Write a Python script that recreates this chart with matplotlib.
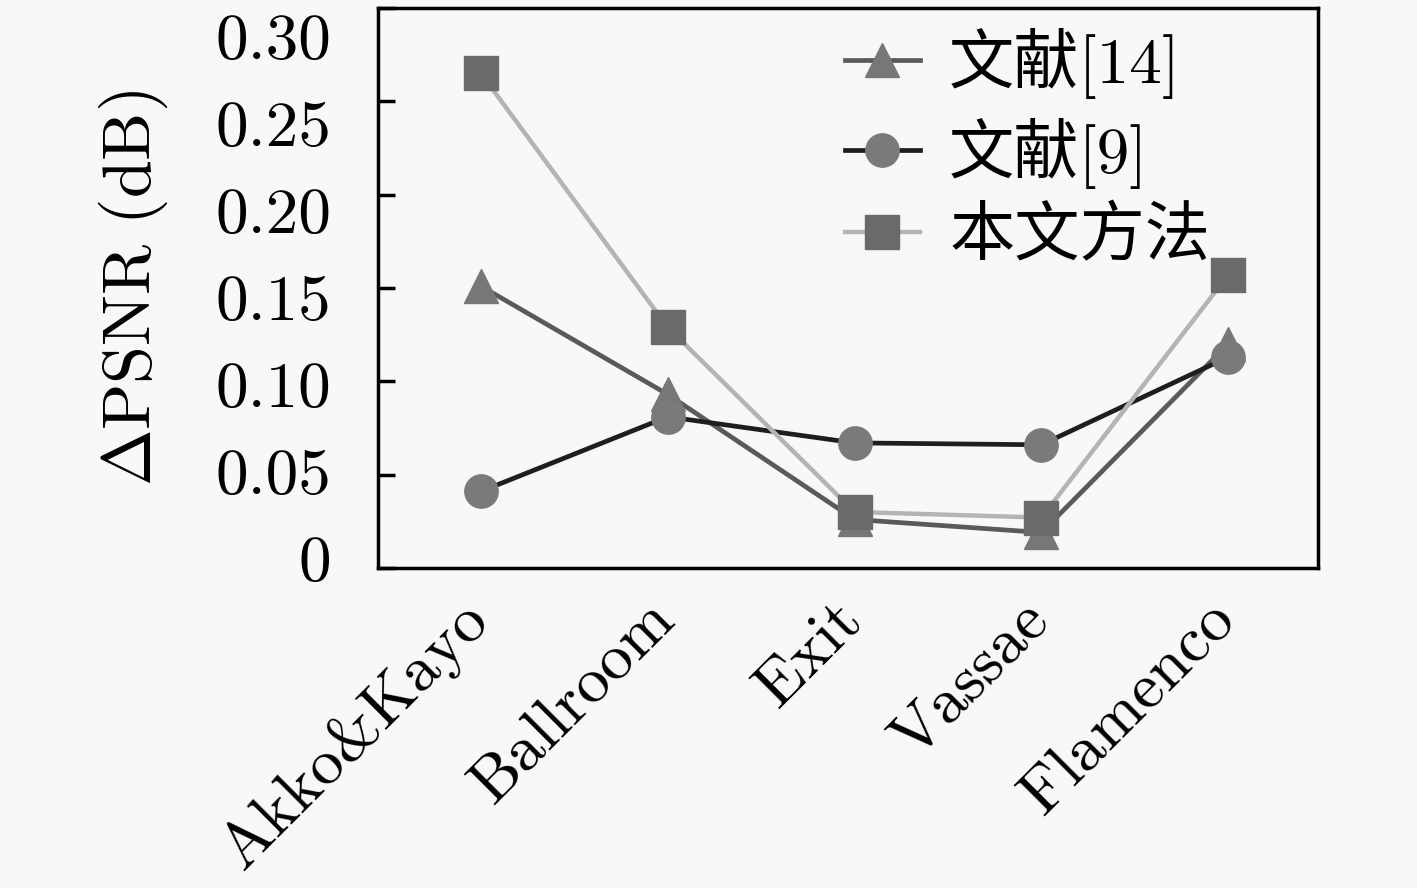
import matplotlib

matplotlib.use("Agg")
import matplotlib.pyplot as plt  # noqa: E402
import matplotlib.transforms as mtransforms  # noqa: E402

plt.rcParams["font.family"] = ["cmr10", "Noto Sans CJK SC", "DejaVu Sans"]
plt.rcParams["mathtext.fontset"] = "cm"
plt.rcParams["axes.unicode_minus"] = False

# 数据
sequences = ["Akko&Kayo", "Ballroom", "Exit", "Vassae", "Flamenco"]
ref14 = [0.151, 0.093, 0.026, 0.019, 0.120]
ref9 = [0.041, 0.081, 0.067, 0.066, 0.113]
ours = [0.265, 0.129, 0.030, 0.027, 0.157]
y_ticks = [0, 0.05, 0.10, 0.15, 0.20, 0.25, 0.30]
y_tick_labels = ["0", "0.05", "0.10", "0.15", "0.20", "0.25", "0.30"]

BG = "#f8f8f8"
FS = 47

fig = plt.figure(figsize=(14.17, 8.88), dpi=100)
fig.patch.set_facecolor(BG)
ax = fig.add_axes([0.2668, 0.3604, 0.6633, 0.6306])
ax.set_facecolor(BG)

x = list(range(len(sequences)))
ax.plot(x, ref14, color="#5a5a5a", linewidth=3.4, marker="^", markersize=24,
        markerfacecolor="#777777", markeredgecolor="#777777", label="文献[14]", zorder=3)
ax.plot(x, ref9, color="#1e1e1e", linewidth=3.4, marker="o", markersize=24,
        markerfacecolor="#7a7a7a", markeredgecolor="#7a7a7a", label="文献[9]", zorder=3)
ax.plot(x, ours, color="#b4b4b4", linewidth=3.2, marker="s", markersize=25,
        markerfacecolor="#6a6a6a", markeredgecolor="#6a6a6a", label="本文方法", zorder=4)

ax.set_xlim(-0.55, 4.48)
ax.set_ylim(0, 0.30)
ax.set_xticks(x)
ax.set_xticklabels(sequences, rotation=45, ha="right", va="top",
                   rotation_mode="anchor", fontsize=FS)
ax.tick_params(axis="x", length=0, pad=16)
shift = mtransforms.ScaledTranslation(-0.22, 0, fig.dpi_scale_trans)
for lbl in ax.get_xticklabels():
    lbl.set_transform(lbl.get_transform() + shift)

# 纵轴刻度线在内侧，标签位置略向下收拢，与原图一致
ax.set_yticks(y_ticks)
ax.set_yticklabels([])
ax.tick_params(axis="y", direction="in", length=12, width=2.5)
for value, label in zip(y_ticks, y_tick_labels):
    frac = 0.005 + value / 0.30 * 0.932
    ax.text(-0.05, frac, label, transform=ax.transAxes, ha="right", va="center", fontsize=FS)

ax.text(-0.26, 0.5, r"$\Delta\mathrm{PSNR\ (dB)}$", transform=ax.transAxes,
        rotation=90, ha="center", va="center", fontsize=FS + 2)

for spine in ax.spines.values():
    spine.set_linewidth(2.5)
    spine.set_color("black")

ax.legend(loc="upper right", frameon=False, fontsize=FS, handlelength=1.15,
          handletextpad=0.45, labelspacing=0.28, borderaxespad=0.1,
          bbox_to_anchor=(0.92, 1.022))

fig.savefig("out.png", dpi=100, facecolor=fig.get_facecolor())
plt.close(fig)
